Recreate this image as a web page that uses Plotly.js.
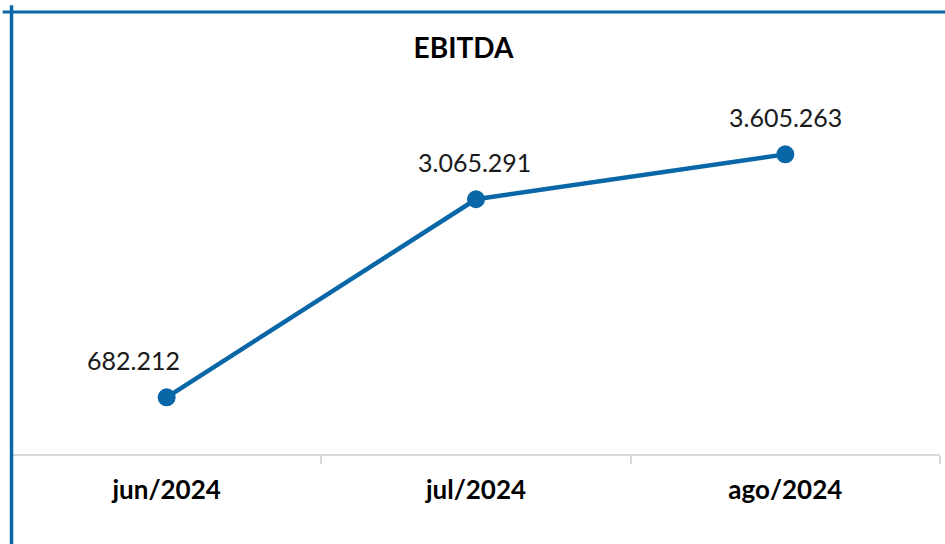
<!DOCTYPE html>
<html>
<head>
<meta charset="utf-8">
<script src="https://cdn.plot.ly/plotly-3.0.1.min.js"></script>
<style>
html,body{margin:0;padding:0;background:#fff;}
#chart{width:945px;height:544px;}
</style>
</head>
<body>
<div id="chart"></div>
<script>
const categories = ["jun/2024", "jul/2024", "ago/2024"];
const ebitda = [682212, 3065291, 3605263];
const labelShift = [-33, -2, 0];

const lineColor = "#0967a7";
const fontFam = "'Century Gothic', 'URW Gothic', Lato, 'Open Sans', sans-serif";

function fmt(v) {
  return String(v).replace(/\B(?=(\d{3})+(?!\d))/g, ".");
}

const trace = {
  x: categories,
  y: ebitda,
  type: "scatter",
  mode: "lines+markers",
  line: {color: lineColor, width: 4.5},
  marker: {color: lineColor, size: 18},
  hoverinfo: "skip",
  cliponaxis: false
};

const annotations = categories.map((c, i) => ({
  x: c, y: ebitda[i], xref: "x", yref: "y",
  text: fmt(ebitda[i]), showarrow: false,
  yshift: 37, xshift: labelShift[i],
  font: {family: fontFam, size: 25, color: "#1a1a1a"}
}));

const layout = {
  width: 945, height: 544,
  margin: {l: 12, r: 5, t: 80, b: 90},
  paper_bgcolor: "#fff", plot_bgcolor: "#fff",
  showlegend: false,
  title: {
    text: "<b>EBITDA</b>",
    x: 0.4865, xref: "paper", xanchor: "center",
    y: 0.912, yref: "container", yanchor: "middle",
    font: {family: fontFam, size: 28, color: "#000"}
  },
  xaxis: {
    type: "category",
    showline: true, linecolor: "#d9d9d9", linewidth: 2,
    ticks: "outside", tickcolor: "#d9d9d9", ticklen: 8, tickwidth: 2,
    tickson: "boundaries",
    ticklabelstandoff: 12,
    showgrid: false, zeroline: false,
    tickfont: {family: fontFam, size: 26, color: "#000", weight: "bold"},
    range: [-0.5, 2.5],
    fixedrange: true
  },
  yaxis: {
    range: [0, 4500000],
    visible: false, showgrid: false, zeroline: false,
    fixedrange: true
  },
  annotations: annotations,
  shapes: [
    {type: "line", xref: "paper", yref: "paper", x0: -0.0005, x1: -0.0005, y0: 1.2, y1: -0.3,
     line: {color: "#0a66a6", width: 3.5}},
    {type: "line", xref: "paper", yref: "paper", x0: -0.01, x1: 1.01, y0: 1.1819, y1: 1.1819,
     line: {color: "#0a66a6", width: 3}}
  ]
};

Plotly.newPlot("chart", [trace], layout, {displayModeBar: false, staticPlot: true});
</script>
</body>
</html>
